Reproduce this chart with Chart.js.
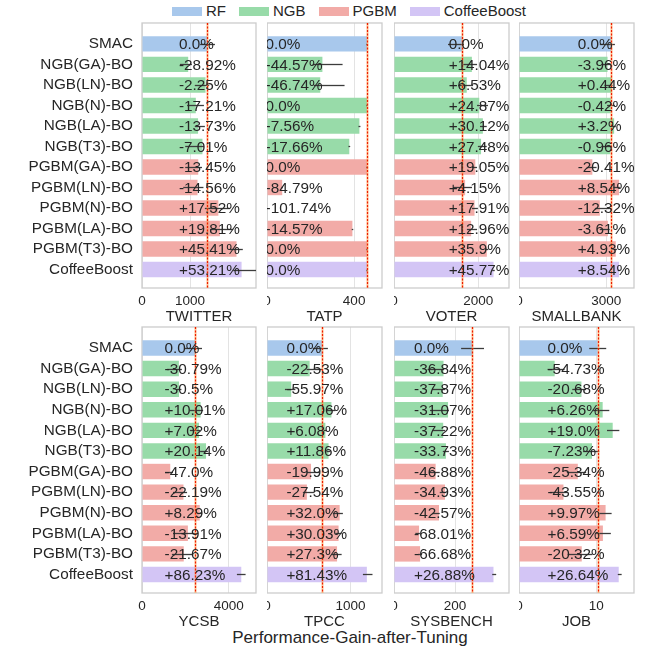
<!DOCTYPE html>
<html>
<head>
<meta charset="utf-8">
<script src="https://cdn.jsdelivr.net/npm/chart.js@4.4.1/dist/chart.umd.min.js"></script>
<style>
  body { margin: 0; width: 647px; height: 651px; position: relative; background: #fff;
         font-family: "Liberation Sans", Arial, sans-serif; color: #262626; overflow: hidden; }
  canvas { position: absolute; }
  #legend { position: absolute; left: 172px; top: 2px; height: 18px; display: flex; align-items: center; font-size: 15px; line-height: 18px; }
  .item { display: flex; align-items: center; margin-right: 13px; }
  .sw { width: 30px; height: 9px; margin-right: 4px; }
  #xlabel { position: absolute; left: 0; width: 700px; top: 628px; text-align: center; font-size: 17px; line-height: 20px; }
</style>
</head>
<body>
<div id="legend"></div>
<div id="xlabel">Performance-Gain-after-Tuning</div>
<script>
// categories and groups (same for every panel)
const categories = ['SMAC', 'NGB(GA)-BO', 'NGB(LN)-BO', 'NGB(N)-BO', 'NGB(LA)-BO', 'NGB(T3)-BO',
  'PGBM(GA)-BO', 'PGBM(LN)-BO', 'PGBM(N)-BO', 'PGBM(LA)-BO', 'PGBM(T3)-BO', 'CoffeeBoost'];
const groups = ['RF', 'NGB', 'NGB', 'NGB', 'NGB', 'NGB', 'PGBM', 'PGBM', 'PGBM', 'PGBM', 'PGBM', 'CoffeeBoost'];
const legendNames = ['RF', 'NGB', 'PGBM', 'CoffeeBoost'];
const groupColors = { RF: '#a8c8ec', NGB: '#98dba9', PGBM: '#f2aba7', CoffeeBoost: '#d3c5f5' };

const benchmarks = ['TWITTER', 'TATP', 'VOTER', 'SMALLBANK', 'YCSB', 'TPCC', 'SYSBENCH', 'JOB'];
const axisMax = [2375, 528, 2728, 3957, 5261, 1379, 377, 14.9];
const tickValues = [1000, 400, 2000, 3000, 4000, 1000, 200, 10];

// performance per method, gain label, and error bar low/high
const twitterValues = [1354, 962.4, 1323.5, 1121.0, 1168.1, 1259.1, 1171.9, 1156.9, 1591.2, 1622.2, 1968.9, 2074.5];
const twitterGain = [0.0, -28.92, -2.25, -17.21, -13.73, -7.01, -13.45, -14.56, 17.52, 19.81, 45.41, 53.21];
const twitterLow = [1210, 790, 1100, 940, 1100, 900, 900, 860, 1310, 1420, 1830, 1900];
const twitterHigh = [1520, 1040, 1400, 1290, 1310, 1290, 1250, 1280, 1830, 1900, 2100, 2375];

const tatpValues = [459, 254.4, 244.5, 459, 424.3, 377.9, 459, 69.8, -8.0, 392.1, 459, 459];
const tatpGain = [0.0, -44.57, -46.74, 0.0, -7.56, -17.66, 0.0, -84.79, -101.74, -14.57, 0.0, 0.0];
const tatpLow = [456, 209, 215, 456, 420, 374, 456, 67, -10, 389, 456, 456];
const tatpHigh = [462, 347, 356, 462, 429, 382, 462, 73, -6, 396, 462, 462];

const voterValues = [1620, 1847.4, 1725.8, 2022.9, 2108.0, 2065.2, 1928.6, 1687.2, 1910.1, 1830.0, 2201.6, 2361.5];
const voterGain = [0.0, 14.04, 6.53, 24.87, 30.12, 27.48, 19.05, 4.15, 17.91, 12.96, 35.9, 45.77];
const voterLow = [1281, 1640, 1520, 1970, 2040, 1990, 1850, 1400, 1850, 1730, 2170, 2330];
const voterHigh = [1660, 1970, 1875, 2230, 2200, 2200, 1970, 1850, 1990, 1970, 2235, 2390];

const smallbankValues = [3172, 3046.4, 3186.0, 3158.7, 3273.5, 3141.5, 2524.6, 3442.9, 2781.2, 3057.5, 3328.4, 3442.9];
const smallbankGain = [0.0, -3.96, 0.44, -0.42, 3.2, -0.96, -20.41, 8.54, -12.32, -3.61, 4.93, 8.54];
const smallbankLow = [2780, 2840, 2940, 3030, 3200, 2880, 2330, 3250, 2610, 2780, 3290, 3400];
const smallbankHigh = [3300, 3180, 3220, 3300, 3330, 3180, 2670, 3470, 3120, 3120, 3370, 3480];

const ycsbValues = [2460, 1702.6, 1709.7, 2706.2, 2632.7, 2955.4, 1303.8, 1914.1, 2663.9, 2117.8, 1926.9, 4581.3];
const ycsbGain = [0.0, -30.79, -30.5, 10.01, 7.02, 20.14, -47.0, -22.19, 8.29, -13.91, -21.67, 86.23];
const ycsbLow = [1980, 1150, 1600, 2210, 2210, 2680, 1060, 1430, 2550, 1430, 1380, 4380];
const ycsbHigh = [2770, 1840, 1820, 2820, 2680, 3040, 1430, 2080, 2780, 2580, 2350, 4780];

const tpccValues = [660, 511.3, 290.6, 772.6, 700.1, 738.3, 528.1, 478.2, 871.2, 858.2, 840.2, 1197.4];
const tpccGain = [0.0, -22.53, -55.97, 17.06, 6.08, 11.86, -19.99, -27.54, 32.0, 30.03, 27.3, 81.43];
const tpccLow = [550, 475, 215, 720, 680, 715, 475, 430, 790, 820, 775, 1150];
const tpccHigh = [730, 665, 340, 820, 720, 760, 630, 570, 910, 895, 895, 1265];

const sysbenchValues = [257, 162.3, 159.7, 177.2, 161.3, 170.3, 136.5, 167.2, 147.6, 82.2, 85.6, 326.1];
const sysbenchGain = [0.0, -36.84, -37.87, -31.07, -37.22, -33.73, -46.88, -34.93, -42.57, -68.01, -66.68, 26.88];
const sysbenchLow = [220, 110, 125, 118, 128, 160, 118, 150, 125, 70, 78, 322];
const sysbenchHigh = [295, 165, 168, 180, 168, 180, 150, 172, 150, 85, 92, 335];

const jobValues = [10.2, 4.62, 8.09, 10.84, 12.14, 9.46, 7.62, 5.76, 11.22, 10.87, 8.13, 12.92];
const jobGain = [0.0, -54.73, -20.68, 6.26, 19.0, -7.23, -25.34, -43.55, 9.97, 6.59, -20.32, 26.64];
const jobLow = [9.1, 3.7, 6.9, 9.6, 11.4, 8.3, 6.2, 4.0, 10.4, 10.0, 6.3, 12.8];
const jobHigh = [11.3, 5.9, 8.7, 11.7, 13.0, 10.4, 8.7, 6.2, 12.0, 11.9, 9.5, 13.3];

const panelValues = [twitterValues, tatpValues, voterValues, smallbankValues, ycsbValues, tpccValues, sysbenchValues, jobValues];
const panelGain = [twitterGain, tatpGain, voterGain, smallbankGain, ycsbGain, tpccGain, sysbenchGain, jobGain];
const panelLow = [twitterLow, tatpLow, voterLow, smallbankLow, ycsbLow, tpccLow, sysbenchLow, jobLow];
const panelHigh = [twitterHigh, tatpHigh, voterHigh, smallbankHigh, ycsbHigh, tpccHigh, sysbenchHigh, jobHigh];

const FONT = '"Liberation Sans", Arial, sans-serif';
const TEXT = '#262626';

// plot area boxes (pixels on the page)
const colLeft = [142, 267, 394, 519];
const colRight = [256, 382, 509, 634];
const rowTop = [23, 327];
const rowBottom = [288, 593];

// legend
const legendEl = document.getElementById('legend');
legendNames.forEach(name => {
  const item = document.createElement('div');
  item.className = 'item';
  item.innerHTML = '<span class="sw" style="background:' + groupColors[name] + '"></span><span>' + name + '</span>';
  legendEl.appendChild(item);
});

function fmtGain(g) {
  const s = Number.isInteger(g) ? g.toFixed(1) : String(g);
  return (g > 0 ? '+' : '') + s + '%';
}

function makePanelPlugin(k) {
  const values = panelValues[k];
  return {
    id: 'panel' + k,
    beforeDatasetsDraw(chart) {
      const { ctx, chartArea: a } = chart;
      ctx.save();
      ctx.strokeStyle = '#cccccc';
      ctx.lineWidth = 1.3;
      ctx.strokeRect(a.left, a.top, a.right - a.left, a.bottom - a.top);
      ctx.restore();
    },
    afterDatasetsDraw(chart) {
      const { ctx, chartArea: a, scales: { x, y } } = chart;
      ctx.save();
      // error bars
      ctx.strokeStyle = '#3c3c3c';
      ctx.lineWidth = 1.3;
      values.forEach((v, i) => {
        const py = Math.round(y.getPixelForValue(i)) + 0.5;
        ctx.beginPath();
        ctx.moveTo(x.getPixelForValue(panelLow[k][i]), py);
        ctx.lineTo(Math.min(a.right, x.getPixelForValue(panelHigh[k][i])), py);
        ctx.stroke();
      });
      // baseline (SMAC) reference line
      const bx = Math.round(x.getPixelForValue(values[0])) + 0.5;
      ctx.strokeStyle = 'rgba(255,150,60,0.55)';
      ctx.lineWidth = 2;
      ctx.beginPath(); ctx.moveTo(bx, a.top); ctx.lineTo(bx, a.bottom); ctx.stroke();
      ctx.strokeStyle = '#ee1c00';
      ctx.lineWidth = 1.2;
      ctx.setLineDash([2, 1.5]);
      ctx.beginPath(); ctx.moveTo(bx, a.top); ctx.lineTo(bx, a.bottom); ctx.stroke();
      ctx.setLineDash([]);
      // gain labels
      const lx = x.getPixelForValue(0.8 * Math.min(...values));
      ctx.fillStyle = TEXT;
      ctx.font = '15.3px ' + FONT;
      ctx.textAlign = 'left';
      ctx.textBaseline = 'middle';
      panelGain[k].forEach((g, i) => {
        ctx.fillText(fmtGain(g), lx, y.getPixelForValue(i) + 1);
      });
      ctx.restore();
    }
  };
}

benchmarks.forEach((name, k) => {
  const r = Math.floor(k / 4), c = k % 4;
  const yW = c === 0 ? 142 : 0;
  const padTop = 4, padRight = 6, xH = 40;
  const w = yW + (colRight[c] - colLeft[c]) + padRight;
  const h = padTop + (rowBottom[r] - rowTop[r]) + xH;
  const canvas = document.createElement('canvas');
  canvas.width = w; canvas.height = h;
  canvas.style.left = (colLeft[c] - yW) + 'px';
  canvas.style.top = (rowTop[r] - padTop) + 'px';
  document.body.appendChild(canvas);

  new Chart(canvas, {
    type: 'bar',
    data: {
      datasets: [{
        data: panelValues[k].map((v, i) => ({ x: v, y: i })),
        backgroundColor: groups.map(g => groupColors[g]),
        borderWidth: 0,
        barPercentage: 0.75,
        categoryPercentage: 1
      }]
    },
    options: {
      indexAxis: 'y',
      responsive: false,
      animation: false,
      layout: { padding: { left: 0, top: padTop, right: padRight, bottom: 0 } },
      plugins: { legend: { display: false }, tooltip: { enabled: false } },
      scales: {
        x: {
          type: 'linear', min: 0, max: axisMax[k], offset: false,
          afterBuildTicks: s => { s.ticks = [{ value: 0 }, { value: tickValues[k] }]; },
          grid: { color: '#e3e3e3', lineWidth: 1, drawTicks: false, offset: false },
          border: { display: false },
          ticks: { padding: 5, color: TEXT, font: { size: 13.5, family: FONT }, callback: v => String(v) },
          title: { display: true, text: name, color: TEXT, font: { size: 15, family: FONT }, padding: { top: 0, bottom: 2 } },
          afterFit: s => { s.height = xH; s.paddingLeft = 0; s.paddingRight = 0; }
        },
        y: {
          type: 'linear', reverse: true, min: -1.02, max: 11.9, offset: false,
          display: c === 0,
          afterBuildTicks: s => { s.ticks = categories.map((_, i) => ({ value: i })); },
          grid: { display: false, drawTicks: false, offset: false },
          border: { display: false },
          ticks: { padding: 9, color: TEXT, font: { size: 15.3, family: FONT }, autoSkip: false, callback: v => categories[v] },
          afterFit: s => { s.width = yW; s.paddingTop = 0; s.paddingBottom = 0; }
        }
      }
    },
    plugins: [makePanelPlugin(k)]
  });
});
</script>
</body>
</html>
